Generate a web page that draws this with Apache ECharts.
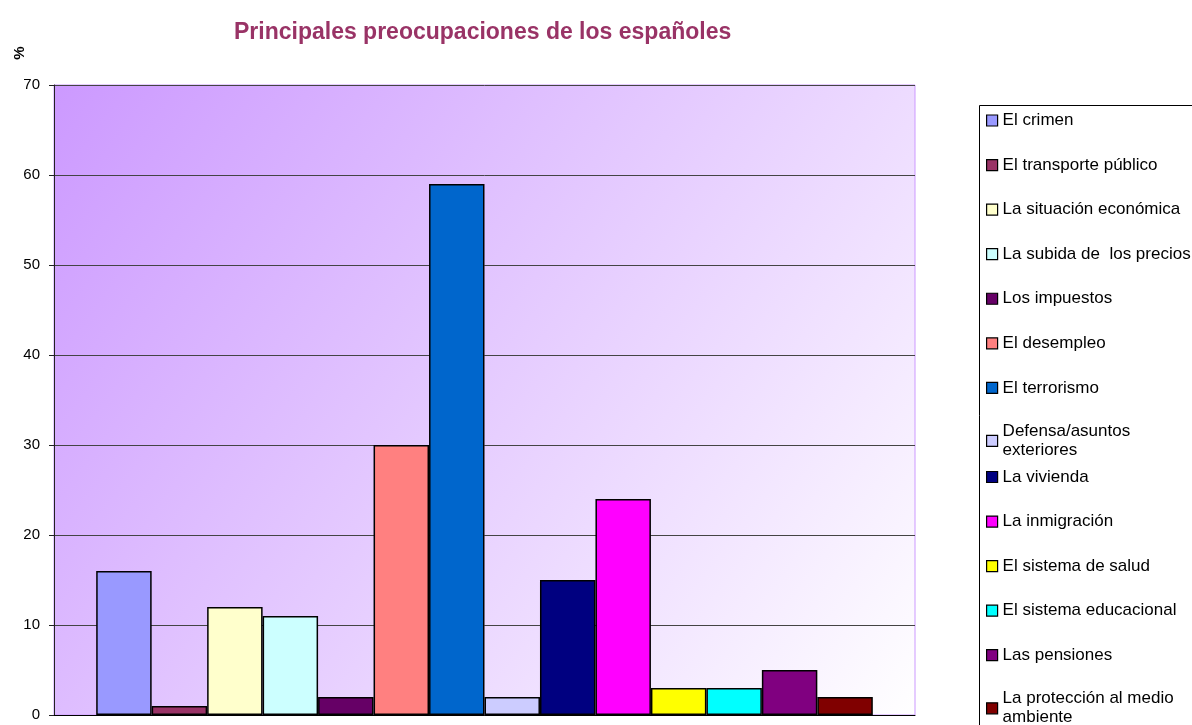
<!DOCTYPE html>
<html><head><meta charset="utf-8">
<script src="https://cdn.jsdelivr.net/npm/echarts@6/dist/echarts.min.js"></script>
<style>html,body{margin:0;padding:0;background:#fff}#c{width:1192px;height:725px}</style>
</head><body><div id="c"></div>
<script>
const titleText = 'Principales preocupaciones de los españoles';
const yAxisTitle = '%';
const categories = ['El crimen', 'El transporte público', 'La situación económica', 'La subida de  los precios', 'Los impuestos', 'El desempleo', 'El terrorismo', 'Defensa/asuntos exteriores', 'La vivienda', 'La inmigración', 'El sistema de salud', 'El sistema educacional', 'Las pensiones', 'La protección al medio ambiente'];
const legendLabels = ['El crimen', 'El transporte público', 'La situación económica', 'La subida de  los precios', 'Los impuestos', 'El desempleo', 'El terrorismo', 'Defensa/asuntos\nexteriores', 'La vivienda', 'La inmigración', 'El sistema de salud', 'El sistema educacional', 'Las pensiones', 'La protección al medio\nambiente'];
const values = [16, 1, 12, 11, 2, 30, 59, 2, 15, 24, 3, 3, 5, 2];
const colors = ['#9999FF', '#993366', '#FFFFCC', '#CCFFFF', '#660066', '#FF8080', '#0066CC', '#CCCCFF', '#000080', '#FF00FF', '#FFFF00', '#00FFFF', '#800080', '#800000'];
const yMin = 0, yMax = 70, yInterval = 10;

const FONT = "'Liberation Sans', Arial, sans-serif";
const chart = echarts.init(document.getElementById('c'), null, {renderer: 'canvas'});

const series = categories.map((name, i) => ({
  type: 'bar',
  name: name,
  data: [values[i]],
  barGap: '0%',
  barCategoryGap: '9.8%',
  itemStyle: {color: colors[i], borderColor: '#000', borderWidth: 1.5},
  emphasis: {disabled: true},
  animation: false
}));

const legendStep = 44.56;
const legends = categories.map((name, i) => ({
  orient: 'vertical',
  left: 986,
  top: 111 + i * legendStep,
  padding: 0,
  itemWidth: 11,
  itemHeight: 11,
  icon: 'rect',
  itemStyle: {borderColor: '#000', borderWidth: 1.2},
  textStyle: {fontSize: 17, lineHeight: 19, height: 19, color: '#000', fontFamily: FONT},
  formatter: n => legendLabels[categories.indexOf(n)],
  selectedMode: false,
  data: [name]
}));

chart.setOption({
  animation: false,
  backgroundColor: '#fff',
  title: {
    text: titleText,
    left: 234,
    top: 21,
    padding: 0,
    textStyle: {fontSize: 23, fontWeight: 'bold', color: '#993366', fontFamily: FONT}
  },
  grid: {
    show: true,
    left: 54, right: 277, top: 85, bottom: 10,
    backgroundColor: new echarts.graphic.LinearGradient(0, 0, 1, 1, [
      {offset: 0, color: '#CC99FF'},
      {offset: 1, color: '#FFFFFF'}
    ]),
    borderColor: '#CC99FF',
    borderWidth: 1
  },
  xAxis: {
    type: 'category',
    data: [''],
    axisLine: {show: true, lineStyle: {color: '#000', width: 1}},
    axisTick: {show: false},
    axisLabel: {show: false},
    splitLine: {show: false}
  },
  yAxis: {
    type: 'value',
    min: yMin, max: yMax, interval: yInterval,
    axisLine: {show: true, lineStyle: {color: '#222', width: 1}},
    axisTick: {show: true, length: 5, lineStyle: {color: '#222'}},
    axisLabel: {fontSize: 15, color: '#000', margin: 14, fontFamily: FONT},
    splitLine: {show: true, lineStyle: {color: '#444', width: 1}}
  },
  legend: legends,
  graphic: [
    {
      type: 'rect', z: 0,
      shape: {x: 979.5, y: 105.5, width: 300, height: 700},
      style: {fill: '#fff', stroke: '#000', lineWidth: 1}
    },
    {
      type: 'text', x: 20, y: 53, rotation: Math.PI / 2,
      style: {text: yAxisTitle, fontSize: 15, fontWeight: 'bold', fill: '#000', fontFamily: FONT, align: 'center', verticalAlign: 'middle'}
    }
  ],
  series: series
});
</script></body></html>
